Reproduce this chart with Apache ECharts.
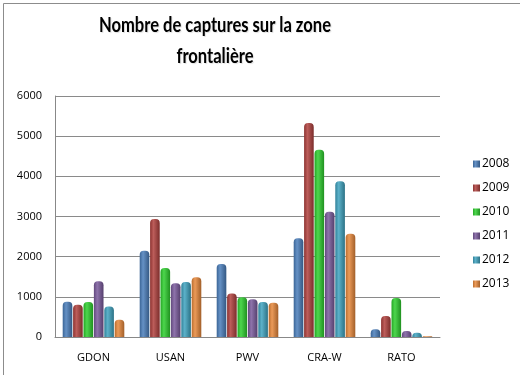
<!DOCTYPE html>
<html><head><meta charset="utf-8">
<script src="https://cdn.jsdelivr.net/npm/echarts@6/dist/echarts.min.js"></script>
<style>html,body{margin:0;padding:0;background:#fff}#c{width:520px;height:375px}</style>
</head><body><div id="c"></div>
<script>
const categories = ['GDON', 'USAN', 'PWV', 'CRA-W', 'RATO'];
const years = ['2008', '2009', '2010', '2011', '2012', '2013'];
const v2008 = [880, 2150, 1820, 2460, 190];
const v2009 = [800, 2940, 1080, 5330, 520];
const v2010 = [870, 1720, 990, 4660, 970];
const v2011 = [1385, 1340, 940, 3120, 150];
const v2012 = [760, 1370, 870, 3880, 105];
const v2013 = [430, 1490, 855, 2570, 20];
const yTicks = [0, 1000, 2000, 3000, 4000, 5000, 6000];
const titleLines = ['Nombre de captures sur la zone', 'frontalière'];
const seriesValues = [v2008, v2009, v2010, v2011, v2012, v2013];
const colors = ['#4A7EBB', '#B0403D', '#2ECF2E', '#7A5A9C', '#3FA3C0', '#E8883A'];

function shade(hex, f) {
  const n = parseInt(hex.slice(1), 16);
  let r = (n >> 16) & 255, g = (n >> 8) & 255, b = n & 255;
  if (f > 0) { r += (255 - r) * f; g += (255 - g) * f; b += (255 - b) * f; }
  else { r *= 1 + f; g *= 1 + f; b *= 1 + f; }
  return 'rgb(' + Math.round(r) + ',' + Math.round(g) + ',' + Math.round(b) + ')';
}

const titleFont = 'bold 21px Lato, sans-serif';
const measureCtx = document.createElement('canvas').getContext('2d');
measureCtx.font = titleFont;
const line1Width = measureCtx.measureText(titleLines[0]).width;
const titleScale = Math.min(1, 232 / line1Width);

const titleText = (t, y) => ({
  type: 'text', x: 215, y: y, scaleX: titleScale, scaleY: 1,
  style: {
    text: t, fill: '#000', font: titleFont,
    textAlign: 'center', textVerticalAlign: 'middle',
    textShadowColor: 'rgba(0,0,0,0.12)', textShadowBlur: 1, textShadowOffsetX: 1, textShadowOffsetY: 1
  }
});

const chart = echarts.init(document.getElementById('c'));
chart.setOption({
  animation: false,
  backgroundColor: '#fff',
  graphic: [
    { type: 'rect', left: 1, top: 1, z: -1,
      shape: { width: 517, height: 372 },
      style: { fill: 'none', stroke: '#8c8c8c', lineWidth: 1 } },
    titleText(titleLines[0], 25),
    titleText(titleLines[1], 56)
  ],
  legend: {
    orient: 'vertical', left: 468, top: 153, itemGap: 12,
    itemWidth: 7, itemHeight: 7, icon: 'rect',
    textStyle: { fontFamily: 'Open Sans', fontSize: 12, color: '#000', padding: [0, 0, 0, -3] },
    data: years
  },
  grid: { left: 55, right: 80, top: 96, bottom: 38 },
  xAxis: {
    type: 'category', data: categories,
    axisLine: { show: true, lineStyle: { color: '#888' } },
    axisTick: { show: false },
    axisLabel: { fontFamily: 'Open Sans', fontSize: 11, color: '#000', margin: 15 }
  },
  yAxis: {
    type: 'value', min: yTicks[0], max: yTicks[yTicks.length - 1], interval: 1000,
    axisLine: { show: true, lineStyle: { color: '#888' } },
    axisTick: { show: false },
    axisLabel: { fontFamily: 'Open Sans', fontSize: 11, color: '#000', margin: 13,
      formatter: (v) => String(v) },
    splitLine: { lineStyle: { color: '#8a8a8a', width: 1 } }
  },
  series: years.map((y, i) => ({
    name: y, type: 'bar', data: seriesValues[i],
    barGap: '8%', barCategoryGap: '20%',
    itemStyle: {
      color: {
        type: 'linear', x: 0, y: 0, x2: 1, y2: 0,
        colorStops: [
          { offset: 0, color: shade(colors[i], -0.2) },
          { offset: 0.35, color: shade(colors[i], 0.15) },
          { offset: 1, color: shade(colors[i], -0.3) }
        ]
      },
      borderRadius: [4, 4, 0, 0]
    }
  })),
  color: colors
});
</script></body></html>
